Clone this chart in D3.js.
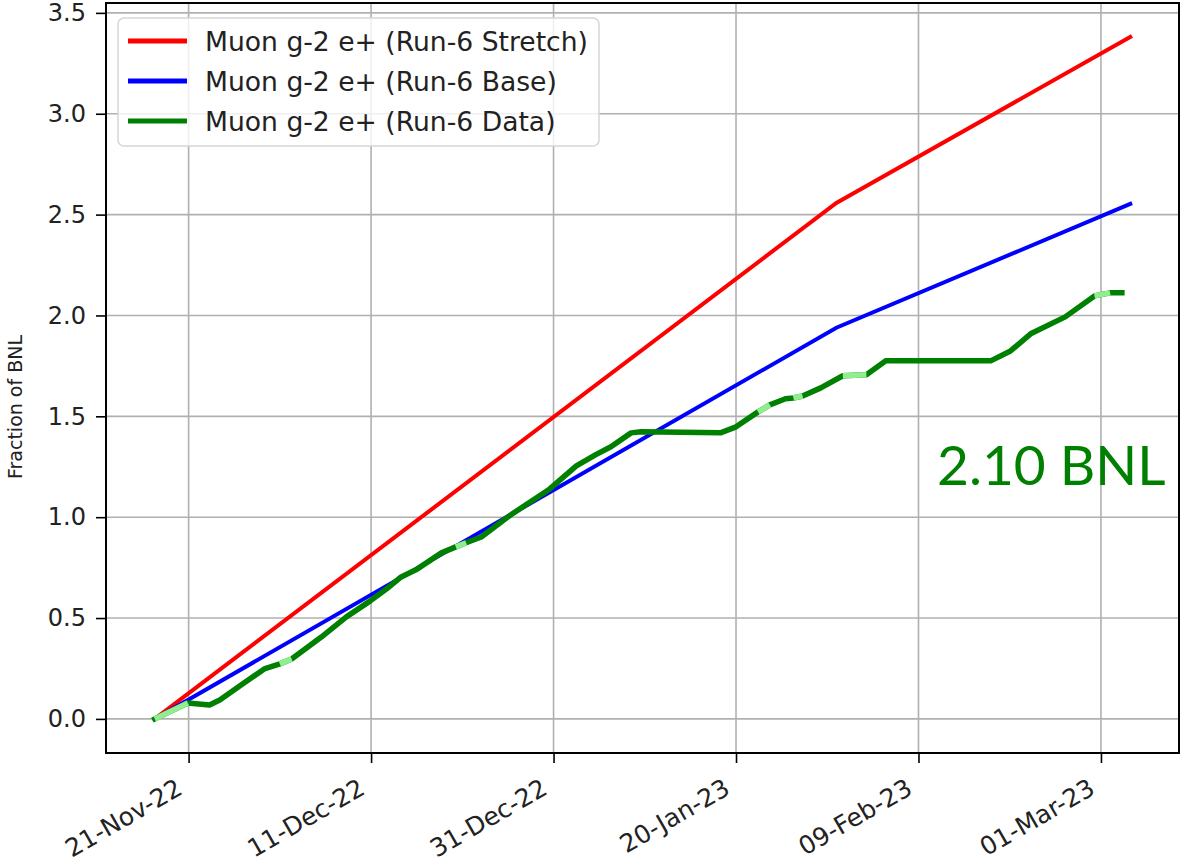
<!DOCTYPE html>
<html>
<head>
<meta charset="utf-8">
<script src="https://cdn.jsdelivr.net/npm/d3@7"></script>
<style>
  html, body { margin: 0; padding: 0; background: #fff; }
  svg { display: block; }
  .tick text { font-family: "DejaVu Sans", sans-serif; }
  .ylabel { font-family: "DejaVu Sans", sans-serif; font-size: 19px; }
</style>
</head>
<body>
<div id="chart"></div>
<script>
// projections (Run-6 plan)
const projDates = ["2022-11-17 07:00", "2023-01-31 00:00", "2023-03-04 05:00"];
const stretchValues = [0, 2.558, 3.38];
const baseValues = [0, 1.939, 2.553];

// accumulated data
const greenDates = [
  "2022-11-17 07:00", "2022-11-20 22:00", "2022-11-23 07:00", "2022-11-24 10:00",
  "2022-11-26 19:00", "2022-11-29 07:00", "2022-12-01 00:00", "2022-12-02 07:00",
  "2022-12-05 14:00", "2022-12-08 07:00", "2022-12-10 22:00", "2022-12-12 17:00",
  "2022-12-14 07:00", "2022-12-15 22:00", "2022-12-18 17:00", "2022-12-20 07:00",
  "2022-12-21 10:00", "2022-12-23 02:00", "2022-12-26 07:00", "2022-12-30 14:00",
  "2023-01-02 12:00", "2023-01-04 14:00", "2023-01-06 07:00", "2023-01-08 12:00",
  "2023-01-09 14:00", "2023-01-18 07:00", "2023-01-20 00:00", "2023-01-22 10:00",
  "2023-01-23 17:00", "2023-01-25 10:00", "2023-01-26 07:00", "2023-01-27 07:00",
  "2023-01-29 07:00", "2023-01-31 17:00", "2023-02-03 07:00", "2023-02-05 10:00",
  "2023-02-16 22:00", "2023-02-19 02:00", "2023-02-21 07:00", "2023-02-25 02:00",
  "2023-02-28 07:00", "2023-03-02 00:00", "2023-03-03 07:00"
];
const greenValues = [
  0.000, 0.079, 0.069, 0.094,
  0.169, 0.248, 0.273, 0.297,
  0.407, 0.506, 0.585, 0.645,
  0.704, 0.739, 0.823, 0.853,
  0.873, 0.902, 1.011, 1.140,
  1.254, 1.309, 1.349, 1.418,
  1.423, 1.418, 1.448, 1.522,
  1.557, 1.587, 1.591, 1.601,
  1.641, 1.701, 1.706, 1.775,
  1.775, 1.824, 1.909, 1.993,
  2.097, 2.112, 2.112
];
// segments (start index) drawn in light green
const lightSegments = [0, 6, 15, 27, 30, 33, 40];

const tickDates = ["2022-11-21", "2022-12-11", "2022-12-31", "2023-01-20", "2023-02-09", "2023-03-01"];
const yTicks = [0, 0.5, 1.0, 1.5, 2.0, 2.5, 3.0, 3.5];

const legendLabels = [
  "Muon g-2 e+ (Run-6 Stretch)",
  "Muon g-2 e+ (Run-6 Base)",
  "Muon g-2 e+ (Run-6 Data)"
];
const colors = { stretch: "#ff0000", base: "#0000ff", data: "#008000", light: "#90ee90" };

const width = 1182, height = 865;
const margin = { left: 106, right: 3, top: 3, bottom: 112 };

const parseT = d3.timeParse("%Y-%m-%d %H:%M");
const parseD = d3.timeParse("%Y-%m-%d");

const proj = projDates.map(parseT);
const stretch = proj.map((d, i) => ({ date: d, value: stretchValues[i] }));
const base = proj.map((d, i) => ({ date: d, value: baseValues[i] }));
const data = greenDates.map((d, i) => ({ date: parseT(d), value: greenValues[i] }));

// matplotlib-like 5% margins
const allDates = proj.concat(data.map(d => d.date));
const [t0, t1] = d3.extent(allDates);
const tPad = (t1 - t0) * 0.05;
const vMax = d3.max(stretchValues.concat(baseValues, greenValues));
const vPad = vMax * 0.05;

const x = d3.scaleTime()
  .domain([new Date(+t0 - tPad), new Date(+t1 + tPad)])
  .range([margin.left, width - margin.right]);
const y = d3.scaleLinear()
  .domain([-vPad, vMax + vPad])
  .range([height - margin.bottom, margin.top]);

const svg = d3.select("#chart").append("svg")
  .attr("width", width)
  .attr("height", height);

// grid
const grid = svg.append("g").attr("stroke", "#b0b0b0").attr("stroke-width", 1.6);
grid.selectAll("line.gx")
  .data(tickDates.map(parseD))
  .enter().append("line")
  .attr("x1", d => x(d)).attr("x2", d => x(d))
  .attr("y1", y.range()[0]).attr("y2", y.range()[1]);
grid.selectAll("line.gy")
  .data(yTicks)
  .enter().append("line")
  .attr("y1", d => y(d)).attr("y2", d => y(d))
  .attr("x1", x.range()[0]).attr("x2", x.range()[1]);

// lines
const line = d3.line().x(d => x(d.date)).y(d => y(d.value));

svg.append("path").datum(stretch)
  .attr("d", line).attr("fill", "none")
  .attr("stroke", colors.stretch).attr("stroke-width", 4)
  .attr("stroke-linecap", "square");
svg.append("path").datum(base)
  .attr("d", line).attr("fill", "none")
  .attr("stroke", colors.base).attr("stroke-width", 4)
  .attr("stroke-linecap", "square");
svg.append("path").datum(data)
  .attr("d", line).attr("fill", "none")
  .attr("stroke", colors.data).attr("stroke-width", 5.5)
  .attr("stroke-linejoin", "round")
  .attr("stroke-linecap", "square");
svg.append("g").selectAll("path")
  .data(lightSegments)
  .enter().append("path")
  .attr("d", i => line([data[i], data[i + 1]]))
  .attr("fill", "none")
  .attr("stroke", colors.light).attr("stroke-width", 5.5)
  .attr("stroke-linecap", "butt");

// axes
const xAxis = d3.axisBottom(x)
  .tickValues(tickDates.map(parseD))
  .tickFormat(d3.timeFormat("%d-%b-%y"))
  .tickSize(10).tickSizeOuter(0);
const gx = svg.append("g")
  .attr("transform", `translate(0,${y.range()[0]})`)
  .call(xAxis);
gx.select(".domain").remove();
gx.selectAll(".tick line").attr("stroke", "#000").attr("stroke-width", 1.6);
gx.selectAll(".tick text")
  .attr("font-size", 25).attr("fill", "#222")
  .attr("text-anchor", "end")
  .attr("y", 0).attr("dy", 0)
  .attr("transform", "translate(-5,40) rotate(-30)");

const yAxis = d3.axisLeft(y)
  .tickValues(yTicks)
  .tickFormat(d3.format(".1f"))
  .tickSize(10).tickPadding(10).tickSizeOuter(0);
const gy = svg.append("g")
  .attr("transform", `translate(${x.range()[0]},0)`)
  .call(yAxis);
gy.select(".domain").remove();
gy.selectAll(".tick line").attr("stroke", "#000").attr("stroke-width", 1.6);
gy.selectAll(".tick text").attr("font-size", 24).attr("fill", "#222");

// frame
svg.append("rect")
  .attr("x", x.range()[0]).attr("y", y.range()[1])
  .attr("width", x.range()[1] - x.range()[0])
  .attr("height", y.range()[0] - y.range()[1])
  .attr("fill", "none").attr("stroke", "#000").attr("stroke-width", 2);

// y label
svg.append("text")
  .attr("class", "ylabel")
  .attr("transform", `translate(22,407) rotate(-90)`)
  .attr("text-anchor", "middle")
  .attr("fill", "#222")
  .text("Fraction of BNL");

// legend
const legend = svg.append("g").attr("transform", "translate(118,18)");
legend.append("rect")
  .attr("width", 481).attr("height", 128).attr("rx", 6)
  .attr("fill", "rgba(255,255,255,0.8)")
  .attr("stroke", "#d6d6d6").attr("stroke-width", 1.5);
const legendColors = [colors.stretch, colors.base, colors.data];
const rows = legend.selectAll("g.row")
  .data(legendLabels)
  .enter().append("g")
  .attr("transform", (d, i) => `translate(0,${23 + i * 40})`);
rows.append("line")
  .attr("x1", 10).attr("x2", 69)
  .attr("stroke", (d, i) => legendColors[i]).attr("stroke-width", 5);
rows.append("text")
  .attr("x", 87).attr("y", 9.5)
  .attr("font-family", "DejaVu Sans, sans-serif")
  .attr("font-size", 26.6).attr("fill", "#222")
  .text(d => d);

// annotation
svg.append("text")
  .attr("x", 937).attr("y", 485)
  .attr("font-family", "Lato, 'Open Sans', sans-serif")
  .attr("font-size", 55).attr("fill", colors.data)
  .text("2.10 BNL");
</script>
</body>
</html>
